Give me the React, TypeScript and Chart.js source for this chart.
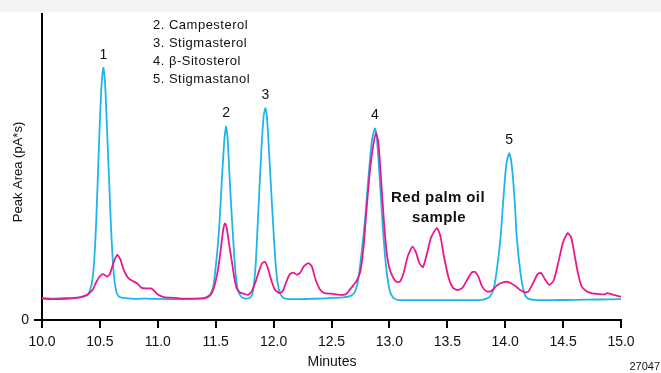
import React, { useEffect, useRef } from "react";
import { Chart, registerables } from "chart.js";

Chart.register(...registerables);

const CYAN = "#1fb5ea";
const MAGENTA = "#e8198b";

// Standard mix trace (cyan)
const stdTime = [
  10.0, 10.1, 10.2, 10.3, 10.36, 10.4, 10.43, 10.45, 10.47, 10.49, 10.51, 10.53, 10.545, 10.56, 10.58, 10.6, 10.62, 10.64, 10.66, 10.7,
  10.8, 10.9, 11.0, 11.1, 11.2, 11.3, 11.4, 11.45, 11.48, 11.51, 11.53, 11.555, 11.575, 11.59, 11.605, 11.625, 11.65, 11.67, 11.69, 11.72,
  11.76, 11.8, 11.82, 11.845, 11.87, 11.895, 11.915, 11.93, 11.945, 11.965, 11.99, 12.02, 12.045, 12.07, 12.1, 12.2, 12.3, 12.4, 12.5, 12.6,
  12.66, 12.7, 12.73, 12.76, 12.79, 12.82, 12.85, 12.875, 12.89, 12.91, 12.94, 12.97, 13.0, 13.03, 13.07, 13.2, 13.4, 13.6, 13.8, 13.86,
  13.9, 13.93, 13.96, 13.985, 14.01, 14.035, 14.055, 14.08, 14.1, 14.13, 14.16, 14.19, 14.25, 14.4, 14.6, 14.8, 15.0,
];
const stdArea = [
  7.2, 7.0, 7.2, 7.3, 7.6, 8.5, 12, 19, 34, 55, 74, 82.4, 77, 64, 45, 27, 15, 9.5, 7.8, 7.2,
  6.9, 7.0, 6.9, 6.8, 6.8, 6.9, 7.2, 8.2, 11, 21, 30, 47, 59, 63.2, 58, 43, 27, 16, 10, 7.6,
  7.0, 7.4, 9, 18, 37, 56, 67, 69.2, 65, 52, 35, 17, 10, 7.8, 7.0, 6.8, 6.9, 7.0, 7.2, 7.4,
  7.8, 9, 13, 22, 33, 47, 59, 62.6, 60, 50, 32, 18, 10, 7.4, 6.6, 6.5, 6.5, 6.5, 6.6, 7.4,
  10, 17, 27, 40, 51, 54.5, 51, 40, 27, 16, 9.5, 7.2, 6.6, 6.5, 6.6, 6.7, 6.8,
];

// Red palm oil sample trace (magenta)
const oilTime = [
  10.0, 10.1, 10.2, 10.3, 10.36, 10.4, 10.44, 10.47, 10.5, 10.53, 10.56, 10.585, 10.62, 10.65, 10.675, 10.7, 10.72, 10.75, 10.78, 10.82,
  10.86, 10.9, 10.94, 10.97, 11.0, 11.05, 11.1, 11.2, 11.3, 11.4, 11.45, 11.48, 11.51, 11.53, 11.55, 11.565, 11.58, 11.595, 11.615, 11.64,
  11.66, 11.68, 11.71, 11.75, 11.78, 11.81, 11.84, 11.87, 11.9, 11.925, 11.95, 11.98, 12.01, 12.05, 12.08, 12.11, 12.14, 12.17, 12.2, 12.23,
  12.26, 12.3, 12.33, 12.36, 12.4, 12.44, 12.5, 12.55, 12.6, 12.63, 12.66, 12.69, 12.72, 12.75, 12.78, 12.8, 12.83, 12.86, 12.885, 12.905,
  12.93, 12.955, 12.98, 13.0, 13.03, 13.06, 13.09, 13.12, 13.16, 13.2, 13.23, 13.26, 13.29, 13.32, 13.36, 13.41, 13.44, 13.47, 13.51, 13.55,
  13.59, 13.63, 13.67, 13.71, 13.74, 13.77, 13.8, 13.84, 13.88, 13.92, 13.96, 14.01, 14.05, 14.09, 14.13, 14.17, 14.2, 14.24, 14.28, 14.31,
  14.34, 14.38, 14.42, 14.46, 14.5, 14.54, 14.57, 14.6, 14.63, 14.66, 14.7, 14.75, 14.8, 14.86, 14.88, 14.92, 14.97, 15.0,
];
const oilArea = [
  7.0, 6.8, 6.9, 7.2, 7.8, 8.5, 10, 12.5, 14.3, 15.0, 14.2, 15.0, 19, 21.3, 20, 17, 15.2, 13.5, 12.8, 12,
  10.5, 10.3, 10.3, 9.5, 8.3, 7.5, 7.3, 7.0, 7.0, 7.1, 8, 10, 14.5, 19, 25, 29.5, 31.6, 30, 25, 19,
  14, 10.5, 9, 8.5, 8.2, 9.3, 12, 15.5, 18.5, 19, 17, 13, 10, 8.8, 9.5, 12.5, 15, 15.5, 14.8, 15.5,
  17.5, 18.6, 17.5, 13.5, 10, 8.8, 8.6, 8.3, 8.2, 8.6, 10, 11.4, 13, 16, 25, 35, 48, 57, 61, 58,
  45, 31, 21, 17, 14, 12.5, 12.5, 15, 21, 24, 22, 18.5, 17.3, 21, 27, 30, 27.5, 21, 14, 10.5,
  9.8, 10.5, 13, 15.5, 15.7, 14, 11, 9.3, 9.5, 11, 12, 12.5, 12, 11, 9.8, 9, 9.3, 12, 15, 15.4,
  13.5, 11.5, 13, 19, 25.5, 28.4, 27, 21, 15, 11, 9.5, 8.7, 8.5, 8.4, 8.8, 8.4, 7.9, 7.6,
];

const xTicks = [10.0, 10.5, 11.0, 11.5, 12.0, 12.5, 13.0, 13.5, 14.0, 14.5, 15.0];
const yTicks = [0];

const peakLabels = ["1", "2", "3", "4", "5"];
const peakTimes = [10.53, 11.59, 11.93, 12.875, 14.035];
const peakHeights = [82.4, 63.2, 69.2, 62.6, 54.5];

const compoundList = ["2. Campesterol", "3. Stigmasterol", "4. β-Sitosterol", "5. Stigmastanol"];
const sampleNote = ["Red palm oil", "sample"];

const FONT = "'Liberation Sans', Arial, sans-serif";

const annotate = {
  id: "annotate",
  beforeDraw(chart: any) {
    const ctx = chart.ctx;
    ctx.save();
    ctx.fillStyle = "#f3f3f3";
    ctx.fillRect(0, 0, chart.width, 12);
    ctx.restore();
  },
  afterDraw(chart: any) {
    const ctx = chart.ctx;
    const xs = chart.scales.x;
    const ys = chart.scales.y;
    ctx.save();
    ctx.fillStyle = "#111";
    ctx.textBaseline = "middle";
    // peak numbers
    ctx.textAlign = "center";
    ctx.font = `14px ${FONT}`;
    peakLabels.forEach((l, i) => {
      ctx.fillText(l, xs.getPixelForValue(peakTimes[i]), ys.getPixelForValue(peakHeights[i]) - 13);
    });
    // compound list
    ctx.textAlign = "left";
    ctx.font = `13px ${FONT}`;
    (ctx as any).letterSpacing = "0.5px";
    compoundList.forEach((t, i) => {
      ctx.fillText(t, 153, 25 + i * 18.3);
    });
    // sample note
    ctx.textAlign = "center";
    ctx.font = `bold 15px ${FONT}`;
    (ctx as any).letterSpacing = "0.4px";
    ctx.fillText(sampleNote[0], 438, 198);
    ctx.fillText(sampleNote[1], 439, 218);
    (ctx as any).letterSpacing = "0px";
    // y axis title
    ctx.save();
    ctx.translate(18, 172);
    ctx.rotate(-Math.PI / 2);
    ctx.font = `13px ${FONT}`;
    ctx.fillText("Peak Area (pA*s)", 0, 0);
    ctx.restore();
    // x axis title
    ctx.font = `14px ${FONT}`;
    ctx.fillText("Minutes", 332, 362);
    // figure number
    ctx.textAlign = "right";
    ctx.font = `11px ${FONT}`;
    ctx.fillText("27047", 660, 367);
    ctx.restore();
  },
};

export default function App() {
  const ref = useRef<HTMLCanvasElement | null>(null);
  useEffect(() => {
    if (!ref.current) return;
    const chart = new Chart(ref.current, {
      type: "line",
      data: {
        datasets: [
          {
            label: "Red palm oil sample",
            data: oilTime.map((t, i) => ({ x: t, y: oilArea[i] })),
            borderColor: MAGENTA,
            borderWidth: 1.8,
            pointRadius: 0,
            tension: 0.2,
            fill: false,
          },
          {
            label: "Standard",
            data: stdTime.map((t, i) => ({ x: t, y: stdArea[i] })),
            borderColor: CYAN,
            borderWidth: 1.8,
            pointRadius: 0,
            tension: 0.2,
            fill: false,
          },
        ],
      },
      options: {
        animation: false,
        responsive: false,
        events: [],
        layout: { padding: { left: 0, right: 40, top: 14, bottom: 0 } },
        plugins: { legend: { display: false }, tooltip: { enabled: false } },
        scales: {
          x: {
            type: "linear",
            min: 10,
            max: 15,
            afterBuildTicks: (s: any) => {
              s.ticks = xTicks.map((v) => ({ value: v }));
            },
            afterFit: (s: any) => {
              s.height = 53;
            },
            ticks: {
              callback: (v: any) => Number(v).toFixed(1),
              font: { family: FONT, size: 14 },
              color: "#111",
              padding: 6,
              maxRotation: 0,
              autoSkip: false,
            },
            grid: { drawOnChartArea: false, drawTicks: true, tickLength: 8, color: "#000", lineWidth: 2 },
            border: { display: true, color: "#000", width: 2 },
          },
          y: {
            type: "linear",
            min: 0,
            max: 100,
            afterBuildTicks: (s: any) => {
              s.ticks = yTicks.map((v) => ({ value: v }));
            },
            afterFit: (s: any) => {
              s.width = 42;
            },
            ticks: {
              font: { family: FONT, size: 14 },
              color: "#111",
              padding: 5,
            },
            grid: { drawOnChartArea: false, drawTicks: true, tickLength: 8, color: "#000", lineWidth: 2 },
            border: { display: true, color: "#000", width: 2 },
          },
        },
      },
      plugins: [annotate],
    });
    return () => chart.destroy();
  }, []);
  return (
    <div style={{ position: "fixed", left: 0, top: 0, width: 661, height: 373, background: "#fff" }}>
      <canvas ref={ref} width={661} height={373} style={{ display: "block" }} />
    </div>
  );
}
